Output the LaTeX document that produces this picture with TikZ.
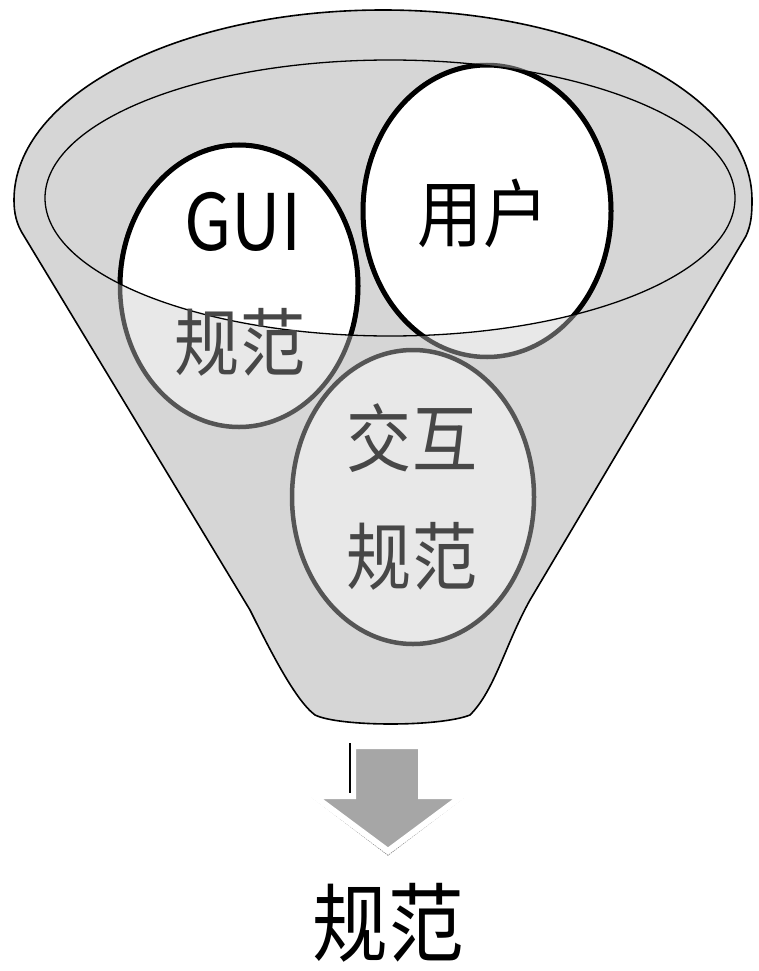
\documentclass[tikz,border=0pt]{standalone}
\usepackage{fontspec}
\setmainfont{Noto Sans CJK SC}
\usetikzlibrary{shapes.geometric}
\definecolor{funnelgray}{HTML}{D6D6D6}
\definecolor{ballgray}{HTML}{E8E8E8}
\definecolor{rimgray}{HTML}{555555}
\definecolor{textgray}{HTML}{474747}
\definecolor{arrowgray}{HTML}{A6A6A6}
\begin{document}
\begin{tikzpicture}[x=1pt,y=-1pt,
  ball/.style={ellipse, draw=rimgray, line width=4.5pt, fill=ballgray, inner sep=0pt},
  topball/.style={fill=white, draw=black, line width=5pt},
  lbl/.style={font=\fontsize{74}{74}\selectfont, xscale=0.88, inner sep=0pt},
  biglbl/.style={font=\fontsize{86}{86}\selectfont, xscale=0.88, inner sep=0pt},
]
\useasboundingbox (0,0) rectangle (758,971);
\fill[white] (0,0) rectangle (758,971);
% funnel body
\filldraw[fill=funnelgray, draw=black, line width=1.6pt]
  (14,200) .. controls (14,95) and (179,10) .. (383,10)
  .. controls (587,10) and (752,95) .. (752,200)
  .. controls (752,215) and (751,225) .. (746,236)
  -- (530,600)
  .. controls (505,645) and (495,690) .. (470,715)
  .. controls (440,727) and (340,727) .. (315,715)
  .. controls (295,700) and (270,650) .. (250,610)
  -- (24,236)
  .. controls (16,224) and (14,212) .. (14,200) -- cycle;
% balls
\node[ball, minimum width=238pt, minimum height=282pt] (gui) at (239,286) {};
\node[ball, minimum width=248pt, minimum height=292pt] (user) at (487,211) {};
\node[ellipse, minimum width=690pt, minimum height=276pt, inner sep=0pt] (mouth) at (390,198) {};
\begin{scope}
  \clip (mouth.center) ellipse [x radius=345, y radius=138];
  \filldraw[topball] (gui.center) ellipse [x radius=119, y radius=141];
  \filldraw[topball] (user.center) ellipse [x radius=124, y radius=146];
\end{scope}
\draw[black, line width=1.3pt] (mouth.center) ellipse [x radius=345, y radius=138];
\node[ball, minimum width=242pt, minimum height=294pt] (inter) at (413,497) {};
% labels
\node[lbl, font=\fontsize{78}{78}\selectfont] (guit) at (243,222) {GUI};
\node[lbl, text=textgray] (guis) at (240,342) {规范};
\node[lbl] (usert) at (483,213) {用户};
\node[lbl, text=textgray] (intert) at (412,438) {交互};
\node[lbl, text=textgray] (inters) at (412,556) {规范};
% arrow
\draw[gray, densely dotted, line width=1.2pt] (312,797) -- (388,855) -- (464,797);
\filldraw[fill=arrowgray, draw=white, line width=6pt, line join=miter]
  (353,746) -- (421,746) -- (421,796) -- (462,796) -- (388,851) -- (314,796) -- (353,796) -- cycle;
\draw[black, line width=1.2pt] (350,743) -- (350,793);
\node[biglbl] (result) at (388,923) {规范};
\end{tikzpicture}
\end{document}
